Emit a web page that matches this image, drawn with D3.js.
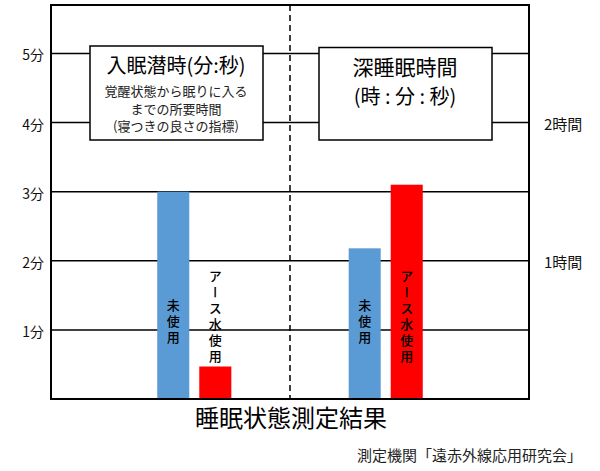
<html>
    <head>
        <meta charset="utf-8">
        <title>睡眠状態測定結果</title>
        <script src="https://cdnjs.cloudflare.com/ajax/libs/d3/7.8.5/d3.min.js"></script>
        <style>
            body { margin: 0; background: #fff; }
            svg { display: block; font-family: "Noto Sans CJK JP", "Noto Sans", sans-serif; }
            .grid line { stroke: #000; stroke-width: 1.5; }
            .frame { fill: none; stroke: #000; stroke-width: 2; }
            .tick-label { font-size: 14px; fill: #111; }
            .bar-label { font-size: 13px; font-weight: 500; fill: #000; writing-mode: vertical-rl; letter-spacing: 3px; }
            .box rect { fill: #fff; stroke: #000; stroke-width: 1.5; }
        </style>
    </head>
    <body>
        <div id="chart"></div>
        <script>
            // data
            var groups = ["入眠潜時", "深睡眠時間"];
            var series = ["未使用", "アース水使用"];
            var latencyMinutes = [3.0, 0.47];     // 入眠潜時 (分)
            var deepSleepHours = [1.09, 1.55];    // 深睡眠時間 (時間)
            var minuteTicks = [1, 2, 3, 4, 5];
            var minuteTickLabels = ["1分", "2分", "3分", "4分", "5分"];
            var hourTicks = [1, 2];
            var hourTickLabels = ["1時間", "2時間"];
            var colors = ["#5B9BD5", "#FF0000"];

            var width = 600, height = 471;
            var margin = {top: 5, right: 71, bottom: 72, left: 51};

            var svg = d3.select("#chart")
                .append("svg")
                .attr("width", width)
                .attr("height", height);

            var x = d3.scaleBand()
                .domain(groups)
                .range([margin.left, width - margin.right])
                .paddingInner(0.613)
                .paddingOuter(0.555);

            var xs = d3.scaleBand()
                .domain(series)
                .range([0, x.bandwidth()])
                .paddingInner(0.238);

            var yMin = d3.scaleLinear()
                .domain([0, 5.7])
                .range([height - margin.bottom, margin.top]);

            var yHour = d3.scaleLinear()
                .domain([0, 2.85])
                .range([height - margin.bottom, margin.top]);

            var left = margin.left, right = width - margin.right;
            var mid = (left + right) / 2;

            // gridlines
            svg.append("g")
                .classed("grid", true)
                .selectAll("line")
                .data(minuteTicks)
                .enter()
                    .append("line")
                    .attr("x1", left)
                    .attr("x2", right)
                    .attr("y1", function(d) { return yMin(d); })
                    .attr("y2", function(d) { return yMin(d); });

            // left tick labels
            svg.selectAll(".tick-left")
                .data(minuteTicks)
                .enter()
                    .append("text")
                    .classed("tick-label", true)
                    .attr("text-anchor", "end")
                    .attr("x", left - 7)
                    .attr("y", function(d) { return yMin(d) + 7; })
                    .text(function(d, i) { return minuteTickLabels[i]; });

            // right tick labels
            svg.selectAll(".tick-right")
                .data(hourTicks)
                .enter()
                    .append("text")
                    .classed("tick-label", true)
                    .style("font-size", "15px")
                    .attr("x", right + 15)
                    .attr("y", function(d) { return yHour(d) + 7; })
                    .text(function(d, i) { return hourTickLabels[i]; });

            // bars
            var values = [latencyMinutes, deepSleepHours];
            var scales = [yMin, yHour];
            var bars = [];
            groups.forEach(function(g, gi) {
                series.forEach(function(s, si) {
                    bars.push({group: g, series: s, value: values[gi][si], y: scales[gi], color: colors[si]});
                });
            });

            svg.selectAll(".bar")
                .data(bars)
                .enter()
                    .append("rect")
                    .classed("bar", true)
                    .attr("x", function(d) { return x(d.group) + xs(d.series); })
                    .attr("width", xs.bandwidth())
                    .attr("y", function(d) { return d.y(d.value); })
                    .attr("height", function(d) { return d.y(0) - d.y(d.value); })
                    .attr("fill", function(d) { return d.color; });

            // vertical labels in / above bars
            svg.selectAll(".bar-label")
                .data(bars)
                .enter()
                    .append("text")
                    .classed("bar-label", true)
                    .attr("text-anchor", "middle")
                    .attr("x", function(d) { return x(d.group) + xs(d.series) + xs.bandwidth() / 2; })
                    .attr("y", function(d) { return yMin(d.series.length > 3 ? 1.18 : 1.1); })
                    .text(function(d) { return d.series; });

            // group divider
            svg.append("line")
                .attr("x1", mid)
                .attr("x2", mid)
                .attr("y1", margin.top)
                .attr("y2", height - margin.bottom)
                .attr("stroke", "#000")
                .attr("stroke-width", 1.5)
                .attr("stroke-dasharray", "6,4");

            // frame
            svg.append("rect")
                .classed("frame", true)
                .attr("x", left)
                .attr("y", margin.top)
                .attr("width", right - left)
                .attr("height", height - margin.bottom - margin.top);

            // caption boxes
            var box1 = svg.append("g").classed("box", true);
            box1.append("rect")
                .attr("x", 90).attr("y", 46)
                .attr("width", 173).attr("height", 94);
            box1.append("text")
                .attr("x", 176).attr("y", 73)
                .attr("text-anchor", "middle")
                .style("font-size", "20px")
                .text("入眠潜時(分:秒)");
            ["覚醒状態から眠りに入る", "までの所要時間", "(寝つきの良さの指標)"].forEach(function(t, i) {
                box1.append("text")
                    .attr("x", 176).attr("y", 96 + i * 17.5)
                    .attr("text-anchor", "middle")
                    .style("font-size", "13px")
                    .style("fill", "#222")
                    .text(t);
            });

            var box2 = svg.append("g").classed("box", true);
            box2.append("rect")
                .attr("x", 319).attr("y", 47.5)
                .attr("width", 173).attr("height", 92.5);
            box2.append("text")
                .attr("x", 405).attr("y", 75)
                .attr("text-anchor", "middle")
                .style("font-size", "21px")
                .text("深睡眠時間");
            box2.append("text")
                .attr("x", 405).attr("y", 104)
                .attr("text-anchor", "middle")
                .style("font-size", "20px")
                .text("(時 : 分 : 秒)");

            // axis title and source
            svg.append("text")
                .attr("x", mid + 1)
                .attr("y", 427)
                .attr("text-anchor", "middle")
                .style("font-size", "24px")
                .text("睡眠状態測定結果");

            svg.append("text")
                .attr("x", 357)
                .attr("y", 461)
                .style("font-size", "15px")
                .style("fill", "#222")
                .text("測定機関「遠赤外線応用研究会」");
        </script>
    </body>
</html>
